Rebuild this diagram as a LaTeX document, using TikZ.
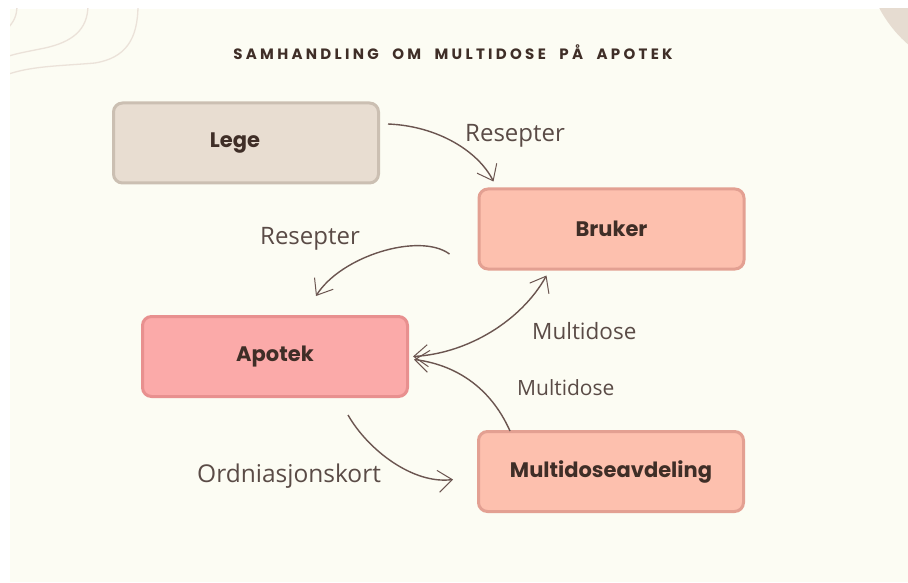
\documentclass[tikz,border=0pt]{standalone}
\usepackage{fontspec}
\setmainfont{Open Sans}
\newfontfamily\boxfont{Poppins}
\newfontfamily\titlefont[LetterSpace=22]{Poppins}
\usetikzlibrary{arrows.meta,calc}

\definecolor{paper}{HTML}{FCFCF3}
\definecolor{swirl}{HTML}{EBE2D9}
\definecolor{disc}{HTML}{E6DCD1}
\definecolor{legefill}{HTML}{E8DDD1}
\definecolor{legeline}{HTML}{CBBFB2}
\definecolor{peachfill}{HTML}{FDC0AE}
\definecolor{peachline}{HTML}{E3A092}
\definecolor{rosefill}{HTML}{FBAAA9}
\definecolor{roseline}{HTML}{E8908F}
\definecolor{ink}{HTML}{3F2E27}
\definecolor{labelink}{HTML}{5A4B46}
\definecolor{wire}{HTML}{6B5550}

\newcommand{\wordgap}{\hspace{7pt}}

\tikzset{
  card/.style={rounded corners=9pt, line width=3pt, minimum width=265pt,
    minimum height=80pt, inner sep=0pt, text=ink,
    font=\boxfont\bfseries\fontsize{21}{24}\selectfont},
  legecard/.style={card, fill=legefill, draw=legeline},
  peachcard/.style={card, fill=peachfill, draw=peachline},
  rosecard/.style={card, fill=rosefill, draw=roseline},
  flowlabel/.style={anchor=base west, inner sep=0pt, text=labelink},
  barb/.tip={Straight Barb[length=14pt,width=22pt,line width=1pt]},
  flow/.style={draw=wire, line width=1.4pt, -barb},
  swirlline/.style={draw=swirl, line width=1.3pt},
}

\begin{document}
\begin{tikzpicture}[x=1pt,y=-1pt]
\useasboundingbox (0,0) rectangle (908,583);
\fill[white] (0,0) rectangle (908,583);
\fill[paper] (10,9) rectangle (908,582);

% background ornaments
\begin{scope}
  \clip (10,9) rectangle (908,582);
  \fill[disc] (990,-50) circle[radius=125];
  \draw[swirlline] (17,5) .. controls (17,16) and (14,22) .. (6,30);
  \draw[swirlline] (88,5) .. controls (88,30) and (72,42) .. (45,48)
    .. controls (25,52) and (14,54) .. (6,57);
  \draw[swirlline] (138,5) .. controls (138,40) and (125,58) .. (95,63)
    .. controls (60,66) and (30,66) .. (6,75);
\end{scope}

% title
\node[text=ink, font=\titlefont\bfseries\fontsize{15}{18}\selectfont]
  (title) at (453,52) {SAMHANDLING \wordgap OM \wordgap MULTIDOSE \wordgap PÅ \wordgap APOTEK};

% boxes
\node[legecard, label={[text=ink, font=\boxfont\bfseries\fontsize{21}{24}\selectfont, xshift=-11pt]center:Lege}]
  (lege) at (246,143) {};
\node[peachcard] (bruker) at (611.5,229) {Bruker};
\node[rosecard] (apotek) at (275,356.5) {Apotek};
\node[peachcard] (multi) at (611,471.5) {Multidoseavdeling};

% connectors
\draw[flow] ($(lege.east)+(8,-19)$) .. controls +(50,2) and +(-15,-30)
  .. ($(bruker.north)+(-118,-6)$);
\draw[flow] ($(bruker.west)+(-28,25)$) .. controls +(-30,-22) and +(25,-40)
  .. ($(apotek.north)+(41,-19)$);
\draw[flow, barb-barb] ($(apotek.east)+(4,0)$) .. controls +(55,-3) and +(-25,45)
  .. ($(bruker.south)+(-65,5)$);
\draw[flow] ($(multi.north)+(-101,1)$) .. controls +(-20,-45) and +(40,5)
  .. ($(apotek.east)+(5,3)$);
\draw[flow] ($(apotek.south)+(73,17)$) .. controls +(20,35) and +(-40,5)
  .. ($(multi.west)+(-24,8)$);

% connector labels
\node[flowlabel, font=\fontsize{24}{28}\selectfont] (l1) at (465,142) {Resepter};
\node[flowlabel, font=\fontsize{24}{28}\selectfont] (l2) at (260,244) {Resepter};
\node[flowlabel, font=\fontsize{22.5}{26}\selectfont] (l3) at (532,339) {Multidose};
\node[flowlabel, font=\fontsize{21}{25}\selectfont] (l4) at (517,395) {Multidose};
\node[flowlabel, font=\fontsize{24.5}{28}\selectfont] (l5) at (197,482) {Ordniasjonskort};
\end{tikzpicture}
\end{document}
